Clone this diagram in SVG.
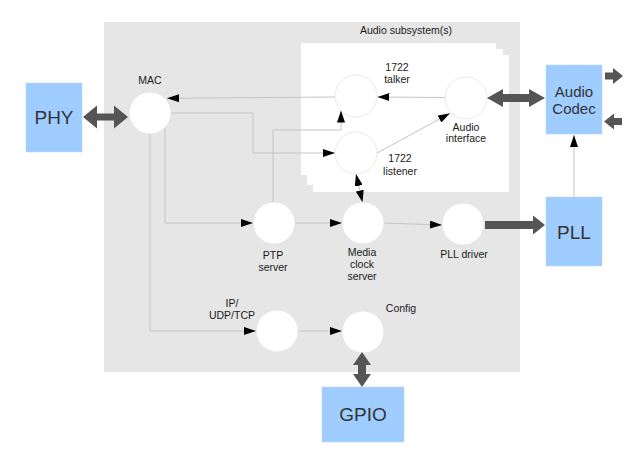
<svg xmlns="http://www.w3.org/2000/svg" width="640" height="457" viewBox="0 0 640 457">
<defs>
<style>
.bg{fill:#e6e6e6}
.sub{fill:#ffffff}
.node{fill:#ffffff;stroke:#e2e2e2;stroke-width:0.75}
.blk{fill:#9fcdff;stroke:#b5d8ff;stroke-width:0.5}
.lbl{font-family:"Liberation Sans",Arial,sans-serif;font-size:10.5px;fill:#1a1a1a;text-anchor:middle}
.big{font-family:"Liberation Sans",Arial,sans-serif;font-size:19px;fill:#333333;text-anchor:middle}
.mid{font-family:"Liberation Sans",Arial,sans-serif;font-size:15px;fill:#333333;text-anchor:middle}
.wire{fill:none;stroke:#c4c4c4;stroke-width:1}
.thick{fill:#555555}
</style>
<marker id="ah" viewBox="0 0 12 8" markerWidth="12" markerHeight="8" refX="12" refY="4" orient="auto-start-reverse" markerUnits="userSpaceOnUse">
<path d="M0,0 L12,4 L0,8 z" fill="#000000"/>
</marker>
</defs>

<rect class="bg" x="104" y="22" width="416" height="350"/>
<text class="lbl" x="406" y="34">Audio subsystem(s)</text>

<g id="subsystems">
<rect class="sub" x="301" y="43" width="195" height="132"/>
<rect class="sub" x="307" y="49" width="196" height="136"/>
<rect class="sub" x="313" y="55" width="196" height="137"/>
</g>

<g id="connectors">
<path class="wire" d="M335,97 L167,98.3" marker-end="url(#ah)"/>
<path class="wire" d="M171,113 H253 V153 H335" marker-end="url(#ah)"/>
<path class="wire" d="M273,202 V130 H341 V110.5" marker-end="url(#ah)"/>
<path class="wire" d="M445,97.5 L377.5,97" marker-end="url(#ah)"/>
<path class="wire" d="M377,153 L450,113.3" marker-end="url(#ah)"/>
<path class="wire" d="M356,174 L362.5,202.3" marker-start="url(#ah)" marker-end="url(#ah)"/>
<path class="wire" d="M165,128 V223 H253" marker-end="url(#ah)"/>
<path class="wire" d="M150,134 V331 H256" marker-end="url(#ah)"/>
<path class="wire" d="M295,223 H342" marker-end="url(#ah)"/>
<path class="wire" d="M384,223 L442,225" marker-end="url(#ah)"/>
<path class="wire" d="M298,331 H342" marker-end="url(#ah)"/>
<path class="wire" d="M574,197 V135" marker-end="url(#ah)"/>
</g>

<g id="mac"><circle class="node" cx="150" cy="113" r="21"/><text class="lbl" x="150" y="84">MAC</text></g>
<g id="talker"><circle class="node" cx="356" cy="96" r="21"/><text class="lbl" x="397" y="71">1722</text><text class="lbl" x="397" y="83">talker</text></g>
<g id="audio-interface"><circle class="node" cx="466" cy="98" r="21"/><text class="lbl" x="466" y="131">Audio</text><text class="lbl" x="466" y="142">interface</text></g>
<g id="listener"><circle class="node" cx="356" cy="153" r="21"/><text class="lbl" x="400" y="162">1722</text><text class="lbl" x="400" y="175">listener</text></g>
<g id="ptp"><circle class="node" cx="274" cy="223" r="21"/><text class="lbl" x="273" y="259">PTP</text><text class="lbl" x="273" y="271">server</text></g>
<g id="media-clock"><circle class="node" cx="363" cy="223" r="21"/><text class="lbl" x="362" y="256">Media</text><text class="lbl" x="362" y="268">clock</text><text class="lbl" x="362" y="280">server</text></g>
<g id="pll-driver"><circle class="node" cx="463" cy="224" r="21"/><text class="lbl" x="464" y="258">PLL driver</text></g>
<g id="ip"><circle class="node" cx="277" cy="331" r="21"/><text class="lbl" x="232" y="307">IP/</text><text class="lbl" x="232" y="319">UDP/TCP</text></g>
<g id="config"><circle class="node" cx="363" cy="332" r="21"/><text class="lbl" x="401" y="312">Config</text></g>

<g id="phy"><rect class="blk" x="26" y="83" width="56" height="69"/><text class="big" x="54" y="124">PHY</text></g>
<g id="codec"><rect class="blk" x="546" y="65" width="56" height="69"/><text class="mid" x="574" y="97">Audio</text><text class="mid" x="574" y="114">Codec</text></g>
<g id="pll"><rect class="blk" x="546" y="197" width="56" height="69"/><text class="big" x="574" y="239">PLL</text></g>
<g id="gpio"><rect class="blk" x="322" y="387" width="82" height="55"/><text class="big" x="363" y="421">GPIO</text></g>

<g id="thick-arrows">
<polygon class="thick" points="83,117 97,105.5 97,113.5 114,113.5 114,105.5 128,117 114,128.5 114,120.5 97,120.5 97,128.5"/>
<polygon class="thick" points="487,98 503,89 503,94 529,94 529,89 545,98 529,107 529,102 503,102 503,107"/>
<polygon class="thick" points="485,221 533,221 533,215.5 545,225 533,234.5 533,229 485,229"/>
<polygon class="thick" points="605,72.5 613,72.5 613,68 623,76 613,84 613,79.5 605,79.5"/>
<polygon class="thick" points="604,121.5 614,113.5 614,118 622,118 622,125 614,125 614,129.5"/>
<polygon class="thick" points="362,352 371,365 366,365 366,374 371,374 362,387 353,374 358,374 358,365 353,365"/>
</g>
</svg>
